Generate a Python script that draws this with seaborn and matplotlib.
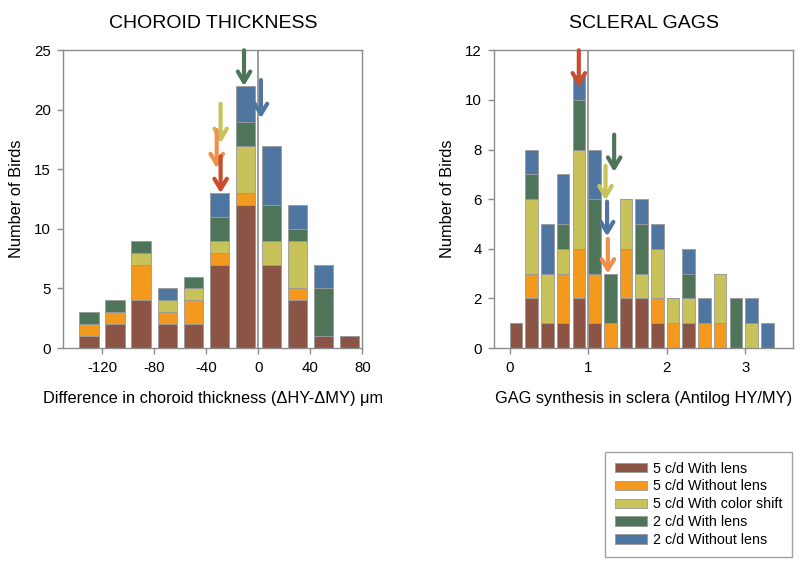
import numpy as np
import pandas as pd
import matplotlib
matplotlib.use('Agg')
import matplotlib.pyplot as plt
import seaborn as sns
from matplotlib.patches import Patch

sns.set_style('white')
plt.rcParams['font.family'] = ['Liberation Sans', 'DejaVu Sans']
plt.rcParams['axes.unicode_minus'] = False
plt.rcParams['text.color'] = 'black'
plt.rcParams['axes.labelcolor'] = 'black'
plt.rcParams['xtick.color'] = 'black'
plt.rcParams['ytick.color'] = 'black'

# ===== data =====
groups = ['5 c/d With lens', '5 c/d Without lens', '5 c/d With color shift',
          '2 c/d With lens', '2 c/d Without lens']
colors = ['#8b5444', '#f39a1e', '#c8c25a', '#4e7559', '#4e76a0']

# choroid thickness, bin centres (um)
choroid_x = [-130, -110, -90, -70, -50, -30, -10, 10, 30, 50, 70]
choroid_5_lens = [1, 2, 4, 2, 2, 7, 12, 7, 4, 1, 1]
choroid_5_nolens = [1, 1, 3, 1, 2, 1, 1, 0, 1, 0, 0]
choroid_5_color = [0, 0, 1, 1, 1, 1, 4, 2, 4, 0, 0]
choroid_2_lens = [1, 1, 1, 0, 1, 2, 2, 3, 1, 4, 0]
choroid_2_nolens = [0, 0, 0, 1, 0, 2, 3, 5, 2, 2, 0]

# scleral GAG synthesis, bin centres
gag_x = [0.08, 0.28, 0.48, 0.68, 0.88, 1.08, 1.28, 1.48, 1.68,
         1.88, 2.08, 2.28, 2.48, 2.68, 2.88, 3.08, 3.28]
gag_5_lens = [1, 2, 1, 1, 2, 1, 0, 2, 2, 1, 0, 1, 0, 0, 0, 0, 0]
gag_5_nolens = [0, 1, 0, 2, 2, 2, 1, 2, 0, 1, 1, 0, 1, 1, 0, 0, 0]
gag_5_color = [0, 3, 2, 1, 4, 0, 0, 2, 1, 2, 1, 1, 0, 2, 0, 1, 0]
gag_2_lens = [0, 1, 0, 1, 2, 3, 2, 0, 2, 0, 0, 1, 0, 0, 2, 0, 0]
gag_2_nolens = [0, 1, 2, 2, 1, 2, 0, 0, 1, 1, 0, 1, 1, 0, 0, 1, 1]

# group means shown as arrows: x, y start, y end
choroid_arrows = [(-11, 25.0, 22.0, '#4e7559'),
                  (2, 22.5, 19.3, '#4e76a0'),
                  (-29, 20.5, 17.2, '#c8c25a'),
                  (-32, 18.3, 15.1, '#f0904a'),
                  (-29, 16.1, 13.0, '#c84e2e')]
gag_arrows = [(0.88, 12.0, 10.5, '#c84e2e'),
              (1.33, 8.6, 7.1, '#4e7559'),
              (1.22, 7.35, 5.95, '#c8c25a'),
              (1.24, 5.9, 4.5, '#4e76a0'),
              (1.25, 4.4, 3.0, '#f0904a')]


def long_df(x, series):
    rows = []
    for g, vals in zip(groups, series):
        for xi, n in zip(x, vals):
            rows.append({'x': xi, 'group': g, 'n': n})
    return pd.DataFrame(rows)


df_ch = long_df(choroid_x, [choroid_5_lens, choroid_5_nolens, choroid_5_color,
                            choroid_2_lens, choroid_2_nolens])
df_gag = long_df(gag_x, [gag_5_lens, gag_5_nolens, gag_5_color,
                         gag_2_lens, gag_2_nolens])

palette = dict(zip(groups, colors))
grey = '#8c8c8c'

fig = plt.figure(figsize=(8, 5.65), dpi=100)
ax1 = fig.add_axes([0.079, 0.384, 0.374, 0.527])
ax2 = fig.add_axes([0.6175, 0.384, 0.374, 0.527])


def draw(ax, df, edges, shrink, vline, arrows):
    ax.axvline(vline, color=grey, lw=1.2, zorder=0)
    sns.histplot(data=df, x='x', weights='n', hue='group', hue_order=groups[::-1],
                 palette=palette, multiple='stack', bins=list(edges), shrink=shrink,
                 alpha=1, edgecolor='#9a9a9a', linewidth=0.6, legend=False, ax=ax)
    for x, y0, y1, c in arrows:
        ax.annotate('', xy=(x, y1), xytext=(x, y0),
                    arrowprops=dict(arrowstyle='->,head_length=0.75,head_width=0.45',
                                    color=c, lw=3, shrinkA=0, shrinkB=0),
                    annotation_clip=False)
    for s in ax.spines.values():
        s.set_color(grey)
        s.set_linewidth(1)
    ax.tick_params(direction='out', length=4, width=1, color=grey,
                   labelsize=10.8, pad=5, bottom=True, left=True)
    ax.set_ylabel('Number of Birds', fontsize=11.8, labelpad=7)


draw(ax1, df_ch, np.arange(-140, 81, 20), 0.75, 0, choroid_arrows)
ax1.set_xlim(-150, 80)
ax1.set_ylim(0, 25)
ax1.set_xticks([-120, -80, -40, 0, 40, 80])
ax1.set_yticks([0, 5, 10, 15, 20, 25])
ax1.set_xlabel('Difference in choroid thickness (\u0394HY-\u0394MY) \u03bcm', fontsize=11.8, labelpad=12)
ax1.set_title('CHOROID THICKNESS', fontsize=14, pad=16)

draw(ax2, df_gag, np.round(np.arange(-0.02, 3.4, 0.2), 2), 0.8, 1.0, gag_arrows)
ax2.set_xlim(-0.2, 3.61)
ax2.set_ylim(0, 12)
ax2.set_xticks([0, 1, 2, 3])
ax2.set_yticks([0, 2, 4, 6, 8, 10, 12])
ax2.set_xlabel('GAG synthesis in sclera (Antilog HY/MY)', fontsize=11.8, labelpad=12)
ax2.set_title('SCLERAL GAGS', fontsize=14, pad=16)

handles = [Patch(facecolor=c, edgecolor='#9a9a9a', linewidth=0.6, label=g)
           for g, c in zip(groups, colors)]
leg = fig.legend(handles=handles, loc='lower right', bbox_to_anchor=(0.99, 0.014),
                 borderaxespad=0, frameon=True, fancybox=False, fontsize=10.3,
                 handlelength=2.2, handleheight=0.65, handletextpad=0.4,
                 labelspacing=0.27, borderpad=0.7)
leg.get_frame().set_edgecolor(grey)
leg.get_frame().set_linewidth(1)

fig.savefig('out.png', dpi=100)
